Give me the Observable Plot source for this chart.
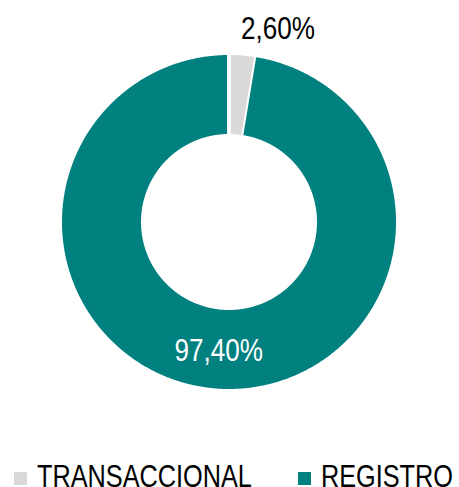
<!DOCTYPE html>
<html>
<head>
<meta charset="utf-8">
<script src="https://cdn.jsdelivr.net/npm/d3@7"></script>
<script src="https://cdn.jsdelivr.net/npm/@observablehq/plot@0.6"></script>
<style>
  html, body { margin: 0; padding: 0; background: #fff; }
  #chart { width: 459px; height: 487px; overflow: hidden; position: relative; }
  #chart svg { display: block; }
  .lg-swatches { position: absolute; left: 0; top: 460px; margin: 0 !important; padding-left: 14px; height: 31px; line-height: 31px; display: flex !important; align-items: center; flex-wrap: nowrap !important; white-space: nowrap; }
  .lg-swatch { margin-right: 46px !important; line-height: 31px; }
  .lg-swatch > svg { margin-right: 10px !important; position: relative; top: 2px; }
  .narrow { display: inline-block; transform-origin: 0 50%; }
</style>
</head>
<body>
<div id="chart"></div>
<script>
const categories = ["TRANSACCIONAL", "REGISTRO"];
const values = [2.60, 97.40];
const labels = ["2,60%", "97,40%"];
const colors = ["#D9D9D9", "#00807F"];
const innerRatio = 86 / 169;
const FONT = '"Liberation Sans Narrow", "Arial Narrow", "Liberation Sans", Arial, sans-serif';

// Detect whether a narrow face is really installed; otherwise compress Liberation Sans.
const ctx = document.createElement("canvas").getContext("2d");
ctx.font = '32px "Liberation Sans Narrow", "Arial Narrow", monospace';
const wN = ctx.measureText("TRANSACCIONAL 97,40%").width;
ctx.font = '32px monospace';
const wM = ctx.measureText("TRANSACCIONAL 97,40%").width;
const hasNarrow = Math.abs(wN - wM) > 0.5;
const NARROW = hasNarrow ? 1 : 0.815;

const total = d3.sum(values);
let acc = 0;
const slices = categories.map((c, i) => {
  const a0 = acc / total * 2 * Math.PI;
  acc += values[i];
  const a1 = acc / total * 2 * Math.PI;
  return {cat: c, value: values[i], label: labels[i], a0, a1, mid: (a0 + a1) / 2};
});

const pts = [];
for (const s of slices) {
  const n = Math.max(8, Math.ceil((s.a1 - s.a0) / (Math.PI / 360)));
  for (let k = 0; k <= n; k++) {
    const a = s.a0 + (s.a1 - s.a0) * k / n;
    pts.push({cat: s.cat, x: Math.sin(a), y: Math.cos(a)});
  }
  for (let k = n; k >= 0; k--) {
    const a = s.a0 + (s.a1 - s.a0) * k / n;
    pts.push({cat: s.cat, x: innerRatio * Math.sin(a), y: innerRatio * Math.cos(a)});
  }
}

const inside = slices.filter(s => s.value > 10).map(s => {
  const r = (1 + innerRatio) / 2;
  return {...s, x: r * Math.sin(s.mid), y: r * Math.cos(s.mid)};
});
const outside = slices.filter(s => s.value <= 10).map(s => {
  const r = 1.15;
  return {...s, x: r * Math.sin(s.mid), y: r * Math.cos(s.mid)};
});

const W = 459, H = 445;
const plot = Plot.plot({
  width: W,
  height: H,
  marginLeft: 59.5,
  marginRight: 61.5,
  marginTop: 52.5,
  marginBottom: 54.5,
  x: {domain: [-1, 1], axis: null},
  y: {domain: [-1, 1], axis: null},
  color: {domain: categories, range: colors},
  style: {fontFamily: FONT, background: "white", overflow: "visible"},
  marks: [
    Plot.line(pts, {x: "x", y: "y", z: "cat", fill: "cat", stroke: "white", strokeWidth: 4, curve: "linear"}),
    Plot.text(inside, {x: "x", y: "y", text: "label", fill: "white", fontSize: 32, dy: 2}),
    Plot.text(outside, {x: "x", y: "y", text: "label", fill: "black", fontSize: 32, dx: 33, dy: 0})
  ]
});

const legend = Plot.legend({
  color: {domain: categories, range: colors},
  legend: "swatches",
  swatchSize: 13,
  className: "lg",
  style: {fontFamily: FONT, fontSize: "31px", color: "black"}
});

const el = document.getElementById("chart");
el.appendChild(plot);
el.appendChild(legend);

if (!hasNarrow) {
  plot.querySelectorAll("text").forEach(t => {
    const L = t.getComputedTextLength();
    t.setAttribute("textLength", L * NARROW);
    t.setAttribute("lengthAdjust", "spacingAndGlyphs");
  });
}
legend.querySelectorAll(".lg-swatch").forEach(sw => {
  [...sw.childNodes].forEach(n => {
    if (n.nodeType === 3 && n.textContent.trim()) {
      const span = document.createElement("span");
      span.className = "narrow";
      span.textContent = n.textContent;
      sw.replaceChild(span, n);
      const w = span.getBoundingClientRect().width;
      span.style.transform = `scaleX(${NARROW})`;
      span.style.width = (w * NARROW) + "px";
    }
  });
});
</script>
</body>
</html>
